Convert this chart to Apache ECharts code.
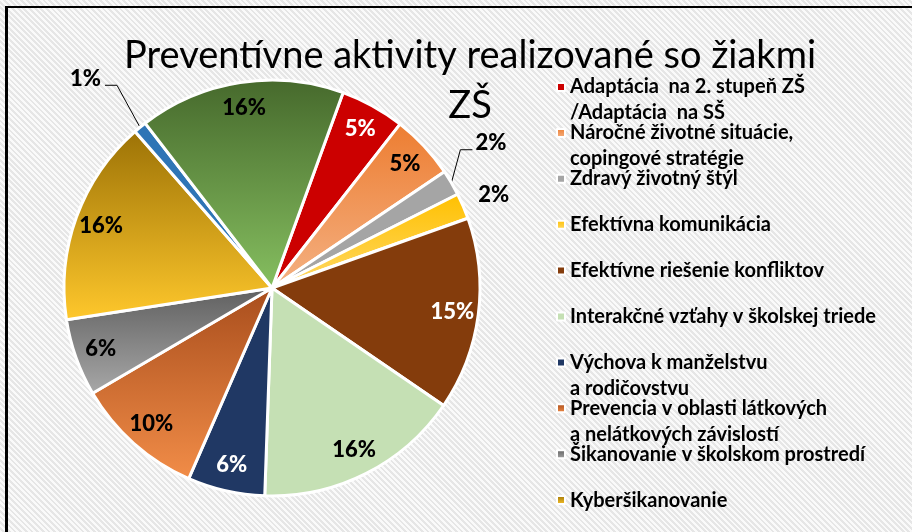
<!DOCTYPE html>
<html>
<head>
<meta charset="utf-8">
<script src="https://cdn.jsdelivr.net/npm/echarts@6/dist/echarts.min.js"></script>
<style>
  html, body { margin: 0; padding: 0; }
  #wrap {
    position: relative; width: 912px; height: 532px; overflow: hidden;
    background: repeating-linear-gradient(45deg, #fafafa 0px, #fafafa 2px, #e6e6e6 2px, #e6e6e6 4px);
  }
  #frame {
    position: absolute; left: 5px; top: 6px; width: 940px; height: 560px;
    border-left: 3px solid #000; border-top: 2px solid #000;
  }
  #chart { position: absolute; left: 0; top: 0; width: 912px; height: 532px; }
</style>
</head>
<body>
<div id="wrap">
  <div id="frame"></div>
  <div id="chart"></div>
</div>
<script>
// slices, clockwise from the red one
const categories = [
  'Adaptácia  na 2. stupeň ZŠ\n/Adaptácia  na SŠ',
  'Náročné životné situácie,\ncopingové stratégie',
  'Zdravý životný štýl',
  'Efektívna komunikácia',
  'Efektívne riešenie konfliktov',
  'Interakčné vzťahy v školskej triede',
  'Výchova k manželstvu\na rodičovstvu',
  'Prevencia v oblasti látkových\na nelátkových závislostí',
  'Šikanovanie v školskom prostredí',
  'Kyberšikanovanie',
  'Iné',
  'Ostatné'
];
const shares = [5, 5, 2, 2, 15, 16, 6, 10, 6, 16, 1, 16];
const legendCount = 10; // only first 10 show in the legend

// [top, bottom] gradient colours per slice
const colors = [
  ['#cc0000', '#cc0000'],
  ['#ed7d31', '#f4b183'],
  ['#a5a5a5', '#a5a5a5'],
  ['#ffc000', '#ffd966'],
  ['#843c0c', '#843c0c'],
  ['#c5e0b4', '#c5e0b4'],
  ['#203864', '#203864'],
  ['#a84d1c', '#f28d48'],
  ['#5f5f5f', '#a8a8a8'],
  ['#9c7206', '#ffc82c'],
  ['#2e75b6', '#2e75b6'],
  ['#46692c', '#86bf60']
];
const whiteLabels = [0, 4, 6];
const outsideLabels = [2, 3, 10];

const chart = echarts.init(document.getElementById('chart'));

const center = [272, 288];
const R = 208;
const font = 'Lato, "Open Sans", sans-serif';

function grad(i) {
  return new echarts.graphic.LinearGradient(0, 0, 0, 1, [
    { offset: 0, color: colors[i][0] },
    { offset: 1, color: colors[i][1] }
  ]);
}

const labelText = { fontFamily: font, fontWeight: 900, fontSize: 22 };
const pct = p => Math.round(p.percent) + '%';

const mainData = shares.map((v, i) => {
  const out = outsideLabels.includes(i);
  return {
    name: categories[i],
    value: v,
    itemStyle: { color: grad(i) },
    label: out ? { show: true, position: 'outside', color: '#000', ...labelText } : { show: false },
    labelLine: out ? { show: i !== 3, length: 20, length2: 10, lineStyle: { color: '#000', width: 1 } } : { show: false }
  };
});

const overlayData = shares.map((v, i) => ({
  name: categories[i],
  value: v,
  label: outsideLabels.includes(i) ? { show: false } : {
    show: true, position: 'inside',
    color: whiteLabels.includes(i) ? '#fff' : '#000', ...labelText
  }
}));

// move the small outside labels relative to the edge anchor the library gives
function moveLabel(params) {
  if (params.seriesIndex !== 0 || !params.labelLinePoints) return;
  const [x0, y0] = params.labelLinePoints[0];
  if (params.dataIndex === 2) {
    return {
      x: x0 + 24, y: y0 - 40, align: 'left', verticalAlign: 'middle',
      labelLinePoints: [[x0, y0], [x0 + 9, y0 - 33], [x0 + 21, y0 - 33]]
    };
  }
  if (params.dataIndex === 3) {
    return { x: x0 + 15, y: y0 - 11, align: 'left', verticalAlign: 'middle' };
  }
  if (params.dataIndex === 10) {
    return {
      x: x0 - 39, y: y0 - 48, align: 'right', verticalAlign: 'middle',
      labelLinePoints: [[x0, y0], [x0 - 23, y0 - 42], [x0 - 35, y0 - 42]]
    };
  }
}

const legends = categories.slice(0, legendCount).map((name, i) => {
  const multi = name.includes('\n');
  const cy = 87 + i * 45.9;
  return {
    data: [name],
    orient: 'vertical',
    left: 556,
    top: cy - (multi ? 39 : 13),
    padding: 0,
    icon: 'rect',
    itemWidth: 8,
    itemHeight: 8,
    selectedMode: false,
    formatter: n => (n.includes('\n') ? '\n' + n : n),
    textStyle: { fontFamily: font, fontWeight: 'bold', fontSize: 20, lineHeight: 26, color: '#000' }
  };
});

chart.setOption({
  backgroundColor: 'transparent',
  title: {
    text: 'Preventívne aktivity realizované so žiakmi\nZŠ',
    left: 465,
    top: 26,
    textAlign: 'center',
    textStyle: { fontFamily: font, fontWeight: 'normal', fontSize: 38, lineHeight: 50, color: '#000' }
  },
  legend: legends,
  series: [
    {
      type: 'pie',
      center: center,
      radius: R,
      startAngle: 70,
      clockwise: true,
      avoidLabelOverlap: false,
      animation: false,
      itemStyle: { borderColor: '#fff', borderWidth: 3 },
      emphasis: { disabled: true },
      label: { formatter: pct },
      labelLayout: moveLabel,
      data: mainData
    },
    {
      type: 'pie',
      center: center,
      radius: [R * 0.72, R],
      startAngle: 70,
      clockwise: true,
      silent: true,
      animation: false,
      itemStyle: { color: 'rgba(0,0,0,0)', borderWidth: 0 },
      labelLine: { show: false },
      label: { formatter: pct },
      data: overlayData
    }
  ]
});
</script>
</body>
</html>
